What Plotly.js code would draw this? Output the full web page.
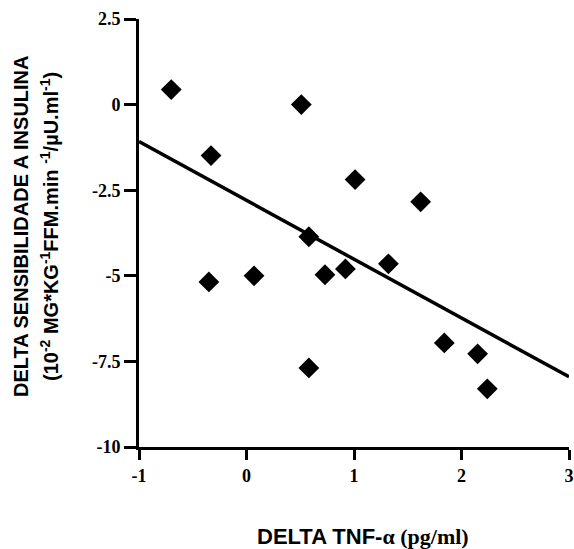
<!DOCTYPE html>
<html>
<head>
<meta charset="utf-8">
<script src="https://cdn.plot.ly/plotly-3.0.1.min.js"></script>
<style>html,body{margin:0;padding:0;background:#fff;}#chart{width:574px;height:549px;}</style>
</head>
<body>
<div id="chart"></div>
<script>
// Scatter data: delta TNF-alpha (pg/ml) vs delta insulin sensitivity
const deltaTNF = [-0.70, -0.33, -0.35, 0.07, 0.51, 1.01, 1.62, 0.58, 0.73, 0.92, 1.32, 0.58, 1.84, 2.15, 2.24];
const deltaSens = [0.44, -1.49, -5.18, -5.00, 0.00, -2.19, -2.84, -3.86, -4.97, -4.80, -4.65, -7.69, -6.96, -7.28, -8.30];
// Regression line endpoints
const fitX = [-1, 3];
const fitY = [-1.08, -7.95];
// Tick labels
const xTickVals = [-1, 0, 1, 2, 3];
const xTickText = ['-1', '0', '1', '2', '3'];
const yTickVals = [2.5, 0, -2.5, -5, -7.5, -10];
const yTickText = ['2.5', '0', '-2.5', '-5', '-7.5', '-10'];

const serif = '"Liberation Serif", "Times New Roman", serif';
const sans = '"Liberation Sans", Arial, sans-serif';

const traces = [
  {
    x: fitX, y: fitY, mode: 'lines', type: 'scatter',
    line: {color: '#000', width: 3.5}, hoverinfo: 'skip'
  },
  {
    x: deltaTNF, y: deltaSens, mode: 'markers', type: 'scatter',
    marker: {symbol: 'diamond', size: 16, color: '#000', line: {width: 0}}
  }
];

const layout = {
  width: 574, height: 549,
  margin: {l: 139, r: 5, t: 19, b: 102},
  paper_bgcolor: '#fff', plot_bgcolor: '#fff',
  showlegend: false,
  xaxis: {
    range: [-1, 3], showgrid: false, zeroline: false,
    showline: true, linecolor: '#000', linewidth: 3,
    ticks: 'outside', ticklen: 10, tickwidth: 3, tickcolor: '#000',
    tickvals: xTickVals, ticktext: xTickText,
    tickfont: {family: serif, size: 18, color: '#000', weight: 'bold'},
    automargin: false
  },
  yaxis: {
    range: [-10, 2.5], showgrid: false, zeroline: false,
    showline: true, linecolor: '#000', linewidth: 3,
    ticks: 'outside', ticklen: 12, tickwidth: 3, tickcolor: '#000',
    tickvals: yTickVals, ticktext: yTickText,
    tickfont: {family: serif, size: 18, color: '#000', weight: 'bold'},
    automargin: false
  },
  annotations: [
    {
      text: '<b>DELTA SENSIBILIDADE A INSULINA</b>',
      xref: 'paper', yref: 'paper', x: 0, y: 0.5, xanchor: 'center', yanchor: 'middle',
      xshift: -118, yshift: 6, textangle: -90, showarrow: false,
      font: {family: sans, size: 20, color: '#000'}
    },
    {
      text: '<b>(10<sup>-2</sup> MG*KG<sup>-1</sup>FFM.min <sup>-1</sup>/µU.ml<sup>-1</sup>)</b>',
      xref: 'paper', yref: 'paper', x: 0, y: 0.5, xanchor: 'center', yanchor: 'middle',
      xshift: -90, yshift: 6, textangle: -90, showarrow: false,
      font: {family: sans, size: 20, color: '#000'}
    },
    {
      text: '<b>DELTA TNF-</b><span style="font-family:\'Liberation Serif\', serif"><b>α (pg/ml)</b></span>',
      xref: 'paper', yref: 'paper', x: 0.521, y: 0, xanchor: 'center', yanchor: 'middle',
      yshift: -89, showarrow: false,
      font: {family: sans, size: 22, color: '#000'}
    }
  ]
};

Plotly.newPlot('chart', traces, layout, {displayModeBar: false, staticPlot: true});
</script>
</body>
</html>
